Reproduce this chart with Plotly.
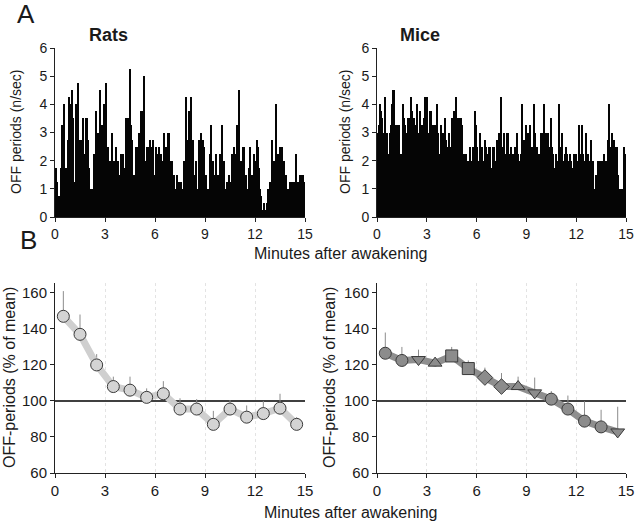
import plotly.graph_objects as go

# ---------------- data ----------------
BIN_SEC = 4  # bin width (seconds)

rats_rate = [
    1.75,1.25,0.75,0.75,0.5,1.75,3.25,1.75,4.0,1.75,0.5,2.75,4.25,4.0,3.5,
    4.5,3.5,1.25,4.0,2.75,4.75,2.75,2.75,2.75,2.5,3.5,2.25,3.5,3.5,2.75,
    1.75,1.0,1.0,1.0,1.0,2.25,3.75,2.5,3.0,3.0,4.5,2.5,3.25,2.0,4.0,
    4.75,2.25,2.5,1.5,2.0,1.25,3.0,2.0,2.0,2.5,1.5,2.0,1.5,1.5,2.25,
    1.5,2.25,1.75,3.5,2.75,3.5,2.0,5.25,3.25,2.75,1.5,1.5,2.5,2.0,2.5,
    3.0,2.25,3.75,2.5,3.75,5.0,2.0,2.5,2.5,1.75,2.75,2.5,2.0,2.75,1.5,
    2.5,2.25,1.5,2.5,1.0,2.25,2.0,1.5,3.0,2.5,1.75,3.0,3.0,2.0,1.0,
    2.0,1.0,1.5,1.0,1.5,0.75,1.25,0.0,1.25,0.25,1.0,2.0,4.25,2.5,2.75,
    3.75,2.0,4.25,2.25,2.75,1.5,2.0,1.0,1.0,2.75,2.5,3.0,2.0,2.75,2.5,
    1.5,1.0,0.25,1.0,2.25,3.25,1.0,2.0,1.5,2.25,1.0,1.5,1.0,2.25,1.0,
    3.25,1.0,2.0,1.0,1.25,1.0,1.5,1.25,1.0,2.25,2.25,2.5,2.25,3.25,2.25,
    4.5,1.75,2.0,1.25,2.5,2.5,1.5,1.0,1.0,1.75,2.5,1.0,1.5,1.0,2.25,
    2.0,2.75,2.5,1.75,1.0,0.75,0.25,0.25,0.5,0.25,0.5,1.0,1.0,1.25,1.0,
    2.75,1.75,2.0,4.0,1.5,2.25,1.5,2.5,2.25,2.5,1.75,2.0,1.5,1.0,1.0,
    0.75,1.25,0.5,1.25,1.0,1.25,2.25,1.0,1.25,1.0,1.5,0.75,1.5,1.5,1.25,
]

mice_rate = [
    3.0,3.25,4.0,3.75,3.5,2.5,3.0,4.25,2.5,3.0,2.25,3.0,3.25,4.0,4.5,
    4.5,3.25,2.0,3.25,3.25,2.0,2.25,2.25,4.0,3.5,3.25,3.0,1.75,3.5,3.5,
    4.25,3.75,3.0,3.5,3.25,3.0,4.0,3.0,3.75,3.25,3.0,3.25,3.5,4.25,3.0,
    4.25,3.0,3.75,3.75,3.25,3.25,2.75,3.25,3.25,4.0,3.0,2.25,3.25,2.5,3.0,
    2.25,3.5,2.75,2.25,2.5,3.0,2.5,3.5,3.0,3.75,2.75,4.25,3.5,3.5,3.5,
    3.5,3.25,2.25,2.25,1.5,2.25,2.0,2.0,1.25,2.5,2.0,2.5,2.25,3.75,3.25,
    2.5,1.25,2.0,3.0,2.5,2.0,1.75,2.75,2.5,2.25,2.0,2.5,2.5,1.75,2.5,
    2.5,2.0,2.0,2.75,2.5,3.0,2.25,4.25,2.5,3.0,2.25,2.0,3.0,3.0,2.25,
    1.75,2.5,2.25,1.5,2.5,2.5,3.0,2.25,1.5,2.0,2.25,4.0,2.75,2.25,3.25,
    2.0,3.0,3.0,3.25,2.0,2.5,4.0,3.0,2.25,2.5,2.0,2.25,1.75,3.0,3.0,
    4.0,2.5,3.0,2.75,3.0,2.25,2.5,3.5,2.5,2.25,1.75,2.25,2.0,1.75,4.0,
    2.5,2.5,3.0,2.0,2.25,2.5,2.25,2.0,1.75,2.25,2.0,1.75,1.75,2.25,2.25,
    1.75,2.0,3.25,2.25,2.0,3.25,2.25,2.0,3.0,2.25,2.25,2.0,2.0,2.75,2.0,
    2.0,1.0,1.5,0.75,2.0,2.0,1.25,2.0,1.5,2.0,2.25,2.0,2.0,2.75,4.0,
    2.5,2.25,3.0,2.5,2.75,2.5,2.5,1.5,0.5,1.0,1.0,1.0,0.5,2.5,2.25,
]

minutes = [0.5, 1.5, 2.5, 3.5, 4.5, 5.5, 6.5, 7.5, 8.5, 9.5, 10.5, 11.5, 12.5, 13.5, 14.5]
rats_pct = [147, 137, 120, 108, 106, 102, 104, 95.5, 95.5, 87, 95.5, 91, 93, 96, 87]
rats_err = [14, 11, 6, 5.5, 7.5, 5, 7, 6, 5.5, 7.5, 5, 6.5, 7, 8, 4]
mice_pct = [126.5, 122.5, 123, 121, 125, 118, 113, 108, 108, 104.5, 101, 95.5, 88.8, 85.6, 82.8]
mice_err = [11.5, 7.5, 5.5, 3, 5, 4.5, 5.5, 7.5, 5.5, 8.5, 4.5, 7.5, 11, 9.5, 14]
mice_symbols = ["circle", "circle", "triangle-down", "triangle-up", "square", "square",
                "diamond", "diamond", "triangle-up", "triangle-down", "circle", "circle",
                "circle", "circle", "triangle-down"]

x_ticks = [0, 3, 6, 9, 12, 15]

# ---------------- figure ----------------
FONT = "Liberation Sans, Arial, sans-serif"
W, H = 635, 522

def bin_centers(n):
    return [(i + 0.5) * BIN_SEC / 60.0 for i in range(n)]

fig = go.Figure()

fig.add_trace(go.Bar(x=bin_centers(len(rats_rate)), y=rats_rate, width=BIN_SEC / 60.0,
                     marker=dict(color="#050505", line=dict(width=0)),
                     xaxis="x", yaxis="y", showlegend=False))
fig.add_trace(go.Bar(x=bin_centers(len(mice_rate)), y=mice_rate, width=BIN_SEC / 60.0,
                     marker=dict(color="#050505", line=dict(width=0)),
                     xaxis="x2", yaxis="y2", showlegend=False))

fig.add_trace(go.Scatter(x=minutes, y=rats_pct, mode="lines+markers",
                         line=dict(color="#cfcfcf", width=7),
                         marker=dict(symbol="circle", size=12, color="#d4d4d4",
                                     line=dict(color="#3a3a3a", width=1)),
                         error_y=dict(type="data", array=rats_err, arrayminus=[0] * len(rats_err),
                                      symmetric=False, color="#8c8c8c", thickness=1, width=0),
                         xaxis="x3", yaxis="y3", showlegend=False))
fig.add_trace(go.Scatter(x=minutes, y=mice_pct, mode="lines+markers",
                         line=dict(color="#8e8e8e", width=7),
                         marker=dict(symbol=mice_symbols, size=12, color="#8c8c8c",
                                     line=dict(color="#3a3a3a", width=1)),
                         error_y=dict(type="data", array=mice_err, arrayminus=[0] * len(mice_err),
                                      symmetric=False, color="#8c8c8c", thickness=1, width=0),
                         xaxis="x4", yaxis="y4", showlegend=False))

def px_x(p):
    return p / W

def px_y(p):
    return 1 - p / H

dom_xl = [px_x(55), px_x(305)]
dom_xr = [px_x(377), px_x(626)]
dom_yt = [px_y(217), px_y(48)]
dom_yb = [px_y(473), px_y(283)]

tickfont_top = dict(family=FONT, size=14, color="#1a1a1a")
tickfont_bot = dict(family=FONT, size=15, color="#1a1a1a")

def x_axis(domain, anchor, grid, tf):
    d = dict(domain=domain, anchor=anchor, range=[0, 15], tickvals=x_ticks, ticks="outside",
             ticklen=4, tickcolor="#222", showline=True, linecolor="#222", linewidth=1,
             zeroline=False, tickfont=tf, showgrid=grid, automargin=False,
             ticklabeloverflow="allow")
    if grid:
        d.update(gridcolor="#e3e3e3", griddash="dot", gridwidth=1)
    return d

def y_axis(domain, anchor, rng, vals, tf):
    return dict(domain=domain, anchor=anchor, range=rng, tickvals=vals, ticks="outside",
                ticklen=4, tickcolor="#222", showline=True, linecolor="#222", linewidth=1,
                showgrid=False, zeroline=False, tickfont=tf, automargin=False,
                ticklabeloverflow="allow")

fig.update_layout(
    width=W, height=H, autosize=False,
    margin=dict(l=0, r=0, t=0, b=0, pad=0, autoexpand=False),
    paper_bgcolor="white", plot_bgcolor="white",
    bargap=0,
    font=dict(family=FONT, color="#1a1a1a"),
    xaxis=x_axis(dom_xl, "y", False, tickfont_top),
    yaxis=y_axis(dom_yt, "x", [0, 6], [0, 1, 2, 3, 4, 5, 6], tickfont_top),
    xaxis2=x_axis(dom_xr, "y2", False, tickfont_top),
    yaxis2=y_axis(dom_yt, "x2", [0, 6], [0, 1, 2, 3, 4, 5, 6], tickfont_top),
    xaxis3=x_axis(dom_xl, "y3", True, tickfont_bot),
    yaxis3=y_axis(dom_yb, "x3", [60, 165.5], [60, 80, 100, 120, 140, 160], tickfont_bot),
    xaxis4=x_axis(dom_xr, "y4", True, tickfont_bot),
    yaxis4=y_axis(dom_yb, "x4", [60, 165.5], [60, 80, 100, 120, 140, 160], tickfont_bot),
)

# reference line at 100 %
for xr, yr in (("x3", "y3"), ("x4", "y4")):
    fig.add_shape(type="line", xref=xr, yref=yr, x0=0, x1=15, y0=100, y1=100,
                  line=dict(color="#000000", width=1.5), layer="below")

ann = []
def add_text(text, x, y, size, angle=0):
    ann.append(dict(text=text, x=px_x(x), y=px_y(y), xref="paper", yref="paper",
                    xanchor="center", yanchor="middle",
                    showarrow=False, textangle=angle,
                    font=dict(size=size, family=FONT, color="#1a1a1a")))

add_text("A", 26, 14, 26)
add_text("B", 28, 240, 26)
add_text("<b>Rats</b>", 108, 35, 18)
add_text("<b>Mice</b>", 420, 35, 18)
add_text("Minutes after awakening", 340, 253, 16)
add_text("Minutes after awakening", 350, 512, 16)
for xc in (16, 345):
    add_text("OFF periods (n/sec)", xc, 132, 14, -90)
for xc in (9, 329):
    add_text("OFF-periods (% of mean)", xc, 378, 16, -90)
fig.update_layout(annotations=ann)

fig.write_html(
    "out.html",
    config={"displayModeBar": False, "responsive": False},
    post_script=("document.body.style.margin='0px';"
                 "document.body.style.overflow='hidden';"
                 "document.documentElement.style.overflow='hidden';"),
)
